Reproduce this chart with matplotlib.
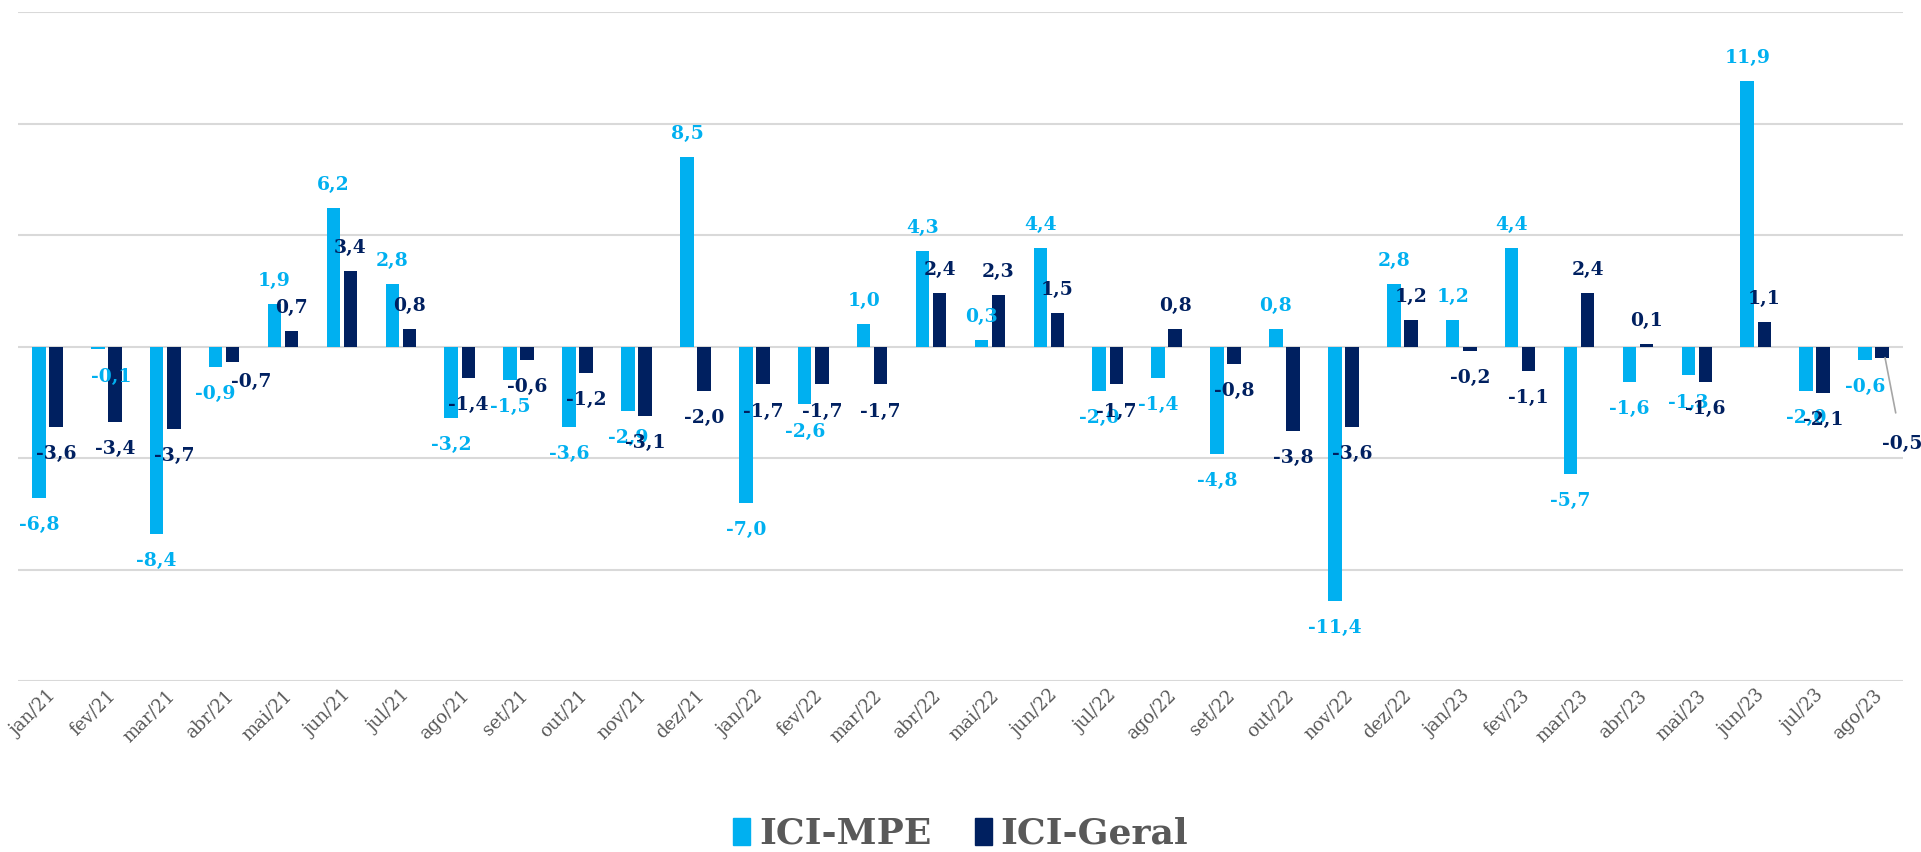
import matplotlib
matplotlib.use("Agg")
import matplotlib.pyplot as plt
import numpy as np
from matplotlib.patches import Patch

# monthly change, %
months = ["jan/21", "fev/21", "mar/21", "abr/21", "mai/21", "jun/21", "jul/21", "ago/21",
          "set/21", "out/21", "nov/21", "dez/21", "jan/22", "fev/22", "mar/22", "abr/22",
          "mai/22", "jun/22", "jul/22", "ago/22", "set/22", "out/22", "nov/22", "dez/22",
          "jan/23", "fev/23", "mar/23", "abr/23", "mai/23", "jun/23", "jul/23", "ago/23"]
ici_mpe = [-6.8, -0.1, -8.4, -0.9, 1.9, 6.2, 2.8, -3.2, -1.5, -3.6, -2.9, 8.5,
           -7.0, -2.6, 1.0, 4.3, 0.3, 4.4, -2.0, -1.4, -4.8, 0.8, -11.4, 2.8,
           1.2, 4.4, -5.7, -1.6, -1.3, 11.9, -2.0, -0.6]
ici_geral = [-3.6, -3.4, -3.7, -0.7, 0.7, 3.4, 0.8, -1.4, -0.6, -1.2, -3.1, -2.0,
             -1.7, -1.7, -1.7, 2.4, 2.3, 1.5, -1.7, 0.8, -0.8, -3.8, -3.6, 1.2,
             -0.2, -1.1, 2.4, 0.1, -1.6, 1.1, -2.1, -0.5]

c_mpe = "#00B0F0"
c_geral = "#002060"
c_text = "#595959"
serif = "DejaVu Serif"

# a few labels were nudged by hand in the original (offset in points)
nudge = {("mpe", 1): (10, -20), ("geral", 3): (13, -14)}

fig = plt.figure(figsize=(19.21, 8.52), dpi=100)
ax = fig.add_axes([18 / 1921, 1 - 681 / 852, (1903 - 18) / 1921, (681 - 12) / 852])

x = np.arange(len(months))
w = 0.23
off = 0.145

ax.bar(x - off, ici_mpe, w, color=c_mpe, zorder=3)
ax.bar(x + off, ici_geral, w, color=c_geral, zorder=3)


def label(xpos, val, color, key, last=False):
    txt = f"{val:.1f}".replace(".", ",")
    if last:
        # small leader line out to the right
        ax.annotate(txt, xy=(xpos + 0.05, val), xytext=(12, -62), textcoords="offset points",
                    ha="center", va="center", color=color, fontsize=13.5,
                    fontweight="bold", family=serif, zorder=4,
                    arrowprops=dict(arrowstyle="-", color="#A6A6A6", lw=1.2,
                                    shrinkA=14, shrinkB=0))
        return
    dx, dy = nudge.get(key, (0, 16.5 if val >= 0 else -19.5))
    ax.annotate(txt, xy=(xpos, val), xytext=(dx, dy), textcoords="offset points",
                ha="center", va="center", color=color, fontsize=13.5,
                fontweight="bold", family=serif, zorder=4)


for i in range(len(months)):
    label(x[i] - off, ici_mpe[i], c_mpe, ("mpe", i))
    label(x[i] + off, ici_geral[i], c_geral, ("geral", i), last=(i == len(months) - 1))

ax.set_xlim(-0.5, len(months) - 0.5)
ax.set_ylim(-15, 15)
ax.set_yticks([-15, -10, -5, 0, 5, 10, 15])
ax.yaxis.grid(True, color="#D9D9D9", linewidth=1.5, zorder=0)
ax.tick_params(axis="y", left=False, labelleft=False)
ax.tick_params(axis="x", length=0, pad=4)
for s in ax.spines.values():
    s.set_visible(False)

ax.set_xticks(x)
ax.set_xticklabels(months, rotation=45, ha="right", rotation_mode="anchor",
                   color=c_text, fontsize=13, family=serif)

handles = [Patch(color=c_mpe, label="ICI-MPE"), Patch(color=c_geral, label="ICI-Geral")]
fig.legend(handles=handles, loc="center", bbox_to_anchor=(0.5, 1 - 834 / 852), ncol=2,
           frameon=False, handlelength=0.47, handleheight=0.8, handletextpad=0.25,
           columnspacing=1.2,
           prop={"family": serif, "weight": "bold", "size": 26}, labelcolor=c_text)

fig.savefig("out.png", dpi=100)
